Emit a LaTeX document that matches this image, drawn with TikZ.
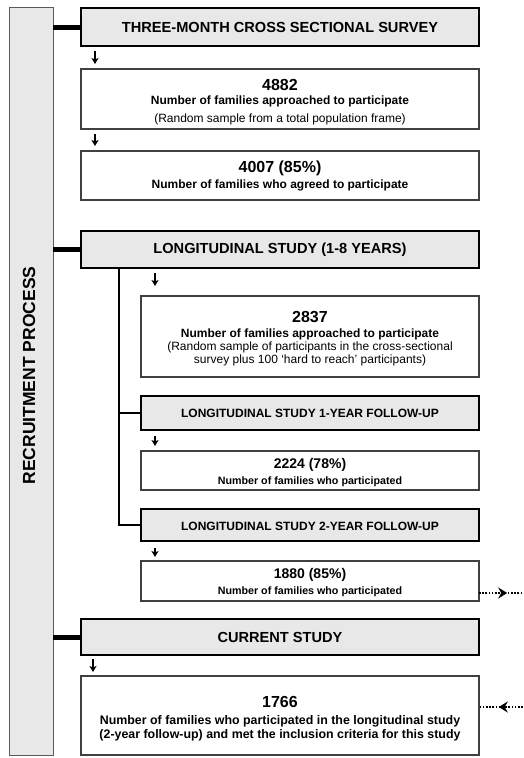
\documentclass[tikz,border=0pt]{standalone}
\usepackage{fontspec}
\setmainfont{Liberation Sans}
\usetikzlibrary{arrows.meta,decorations.markings}
\definecolor{panelgray}{HTML}{E8E8E8}
\definecolor{edgegray}{HTML}{404040}
\definecolor{bargray}{HTML}{5A5A5A}
\begin{document}
\begin{tikzpicture}[x=1pt,y=-1pt,
  hdrbox/.style={draw=black,line width=2.3pt,fill=panelgray,inner sep=0pt,outer sep=0pt},
  infobox/.style={draw=edgegray,line width=1.5pt,fill=white,inner sep=0pt,outer sep=0pt},
  sidebar/.style={draw=bargray,line width=1pt,fill=panelgray,inner sep=0pt,outer sep=0pt},
  ln/.style={anchor=base,inner sep=0pt,outer sep=0pt},
  hdrtxt/.style={ln,font=\bfseries\fontsize{14.6}{16}\selectfont},
  subtxt/.style={ln,font=\bfseries\fontsize{12}{14}\selectfont},
  numtxt/.style={ln,font=\bfseries\fontsize{16}{18}\selectfont},
  midnum/.style={ln,font=\bfseries\fontsize{14}{16}\selectfont},
  boldtxt/.style={ln,font=\bfseries\fontsize{12}{14}\selectfont},
  bigbold/.style={ln,font=\bfseries\fontsize{12.4}{14}\selectfont},
  regtxt/.style={ln,font=\fontsize{12}{14}\selectfont},
  smalltxt/.style={ln,font=\bfseries\fontsize{10.7}{12}\selectfont},
  sidetxt/.style={ln,rotate=90,font=\bfseries\fontsize{17.5}{19}\selectfont},
  link/.style={line width=5pt},
  tree/.style={line width=2.6pt},
  dnarr/.style={line width=1.3pt,-{Stealth[length=6pt,width=7pt,inset=1.5pt]}},
  dotarr/.style={line width=1.6pt,dash pattern=on 1.6pt off 1.6pt,
    decoration={markings,mark=at position #1 with {\arrow[solid]{Stealth[length=9pt,width=11pt,inset=3pt]}}},
    postaction={decorate}}
]
\useasboundingbox (0,0) rectangle (524,758);

% side bar
\node[sidebar,minimum width=44pt,minimum height=748pt] (bar) at (31,381) {};
\node[sidetxt] (bart) at (35,375.5) {RECRUITMENT PROCESS};

% boxes
\node[hdrbox,minimum width=398pt,minimum height=38pt] (h1) at (280,27) {};
\node[infobox,minimum width=398pt,minimum height=60pt] (b1) at (280,99) {};
\node[infobox,minimum width=398pt,minimum height=49pt] (b2) at (280,175.5) {};
\node[hdrbox,minimum width=398pt,minimum height=37pt] (h2) at (280,249.5) {};
\node[infobox,minimum width=338pt,minimum height=81pt] (b3) at (310,336.5) {};
\node[hdrbox,minimum width=338pt,minimum height=34pt] (l1) at (310,413) {};
\node[infobox,minimum width=338pt,minimum height=39pt] (b4) at (310,470.5) {};
\node[hdrbox,minimum width=338pt,minimum height=32pt] (l2) at (310,525) {};
\node[infobox,minimum width=338pt,minimum height=40pt] (b5) at (310,581) {};
\node[hdrbox,minimum width=398pt,minimum height=36pt] (h3) at (280,637) {};
\node[infobox,minimum width=398pt,minimum height=79pt] (b6) at (280,715.5) {};

% texts
\node[hdrtxt] (h1t) at (280,32) {THREE-MONTH CROSS SECTIONAL SURVEY};
\node[numtxt] (b1a) at (280,90) {4882};
\node[boldtxt] (b1b) at (280,104.5) {Number of families approached to participate};
\node[regtxt] (b1c) at (280,122) {(Random sample from a total population frame)};
\node[numtxt] (b2a) at (280,172) {4007 (85\%)};
\node[boldtxt] (b2b) at (280,188) {Number of families who agreed to participate};
\node[hdrtxt] (h2t) at (280,253.5) {LONGITUDINAL STUDY (1-8 YEARS)};
\node[numtxt] (b3a) at (310,322) {2837};
\node[boldtxt] (b3b) at (310,337) {Number of families approached to participate};
\node[regtxt] (b3c) at (310,350) {(Random sample of participants in the cross-sectional};
\node[regtxt] (b3d) at (310,363) {survey plus 100 ‘hard to reach’ participants)};
\node[subtxt] (l1t) at (310,417) {LONGITUDINAL STUDY 1-YEAR FOLLOW-UP};
\node[midnum] (b4a) at (310,468) {2224 (78\%)};
\node[smalltxt] (b4b) at (310,484) {Number of families who participated};
\node[subtxt] (l2t) at (310,530) {LONGITUDINAL STUDY 2-YEAR FOLLOW-UP};
\node[midnum] (b5a) at (310,578) {1880 (85\%)};
\node[smalltxt] (b5b) at (310,594) {Number of families who participated};
\node[hdrtxt] (h3t) at (280,642) {CURRENT STUDY};
\node[numtxt] (b6a) at (280,707) {1766};
\node[bigbold] (b6b) at (280,724) {Number of families who participated in the longitudinal study};
\node[bigbold] (b6c) at (280,738) {(2-year follow-up) and met the inclusion criteria for this study};

% links from side bar
\draw[link] (h1.west -| bar.east) -- (h1.west);
\draw[link] (h2.west -| bar.east) -- (h2.west);
\draw[link] (h3.west -| bar.east) -- (h3.west);

% longitudinal tree
\draw[tree] ([xshift=38pt]h2.south west) |- (l1.west);
\draw[tree] ([xshift=38pt]h2.south west) |- (l2.west);

% small down arrows
\draw[dnarr] ([xshift=14pt,yshift=-5pt]h1.south west) -- ([xshift=14pt,yshift=5pt]b1.north west);
\draw[dnarr] ([xshift=14pt,yshift=-5pt]b1.south west) -- ([xshift=14pt,yshift=5pt]b2.north west);
\draw[dnarr] ([xshift=74pt,yshift=-5pt]h2.south west) -- ([xshift=74pt,yshift=-18pt]h2.south west);
\draw[dnarr] ([xshift=14pt,yshift=-6pt]l1.south west) -- ([xshift=14pt,yshift=5pt]b4.north west);
\draw[dnarr] ([xshift=14pt,yshift=-7pt]l2.south west) -- ([xshift=14pt,yshift=4pt]b5.north west);
\draw[dnarr] ([xshift=12pt,yshift=-4pt]h3.south west) -- ([xshift=12pt,yshift=4pt]b6.north west);

% dotted arrows at right edge
\coordinate (outR) at (526,593);
\coordinate (inR) at (526,707);
\draw[dotarr=0.6] ([yshift=-12pt]b5.east) -- (outR);
\draw[dotarr=0.58] (inR) -- ([yshift=8.5pt]b6.east);
\end{tikzpicture}
\end{document}
